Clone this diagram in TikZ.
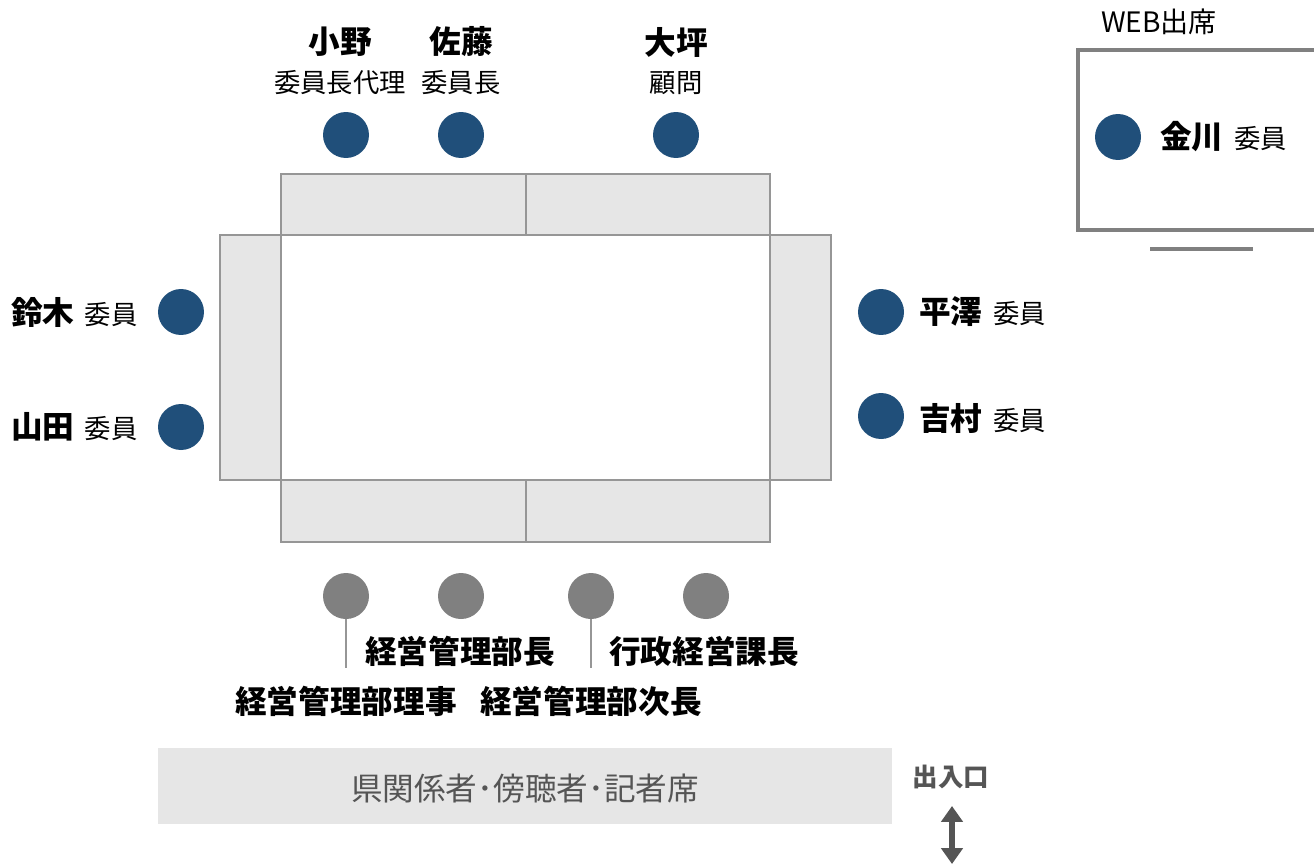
\documentclass[tikz,border=0pt]{standalone}
\usepackage{fontspec}
\newfontfamily\cjk{Noto Sans CJK JP}
\usetikzlibrary{arrows.meta}
\definecolor{kon}{RGB}{32,79,122}
\definecolor{nezumi}{RGB}{128,128,128}
\definecolor{usuzumi}{RGB}{230,230,230}
\definecolor{waku}{RGB}{150,150,150}
\definecolor{sumi}{RGB}{85,85,85}
\newcommand{\namae}{\cjk\bfseries\fontsize{18}{20}\selectfont}
\newcommand{\yaku}{\cjk\fontsize{15}{18}\selectfont}

\begin{document}
\begin{tikzpicture}[x=0.02cm, y=-0.02cm]
	\tikzset{iin/.style={circle, fill=kon, inner sep=0pt, minimum size=0.92cm},
		jimu/.style={circle, fill=nezumi, inner sep=0pt, minimum size=0.92cm},
		seki/.style={draw=waku, fill=usuzumi, line width=0.8pt},
		meifuda/.style={inner sep=0pt, font=\namae},
		katagaki/.style={inner sep=0pt, font=\yaku},
		deiri/.style={draw=sumi, line width=3.4pt, {Triangle[length=9pt, width=12pt]}-{Triangle[length=9pt, width=12pt]}}};

	\useasboundingbox (0,0) rectangle (1314,865);

	% tsukue
	\draw[seki] (281,174) rectangle (526,235);
	\draw[seki] (526,174) rectangle (770,235);
	\draw[seki] (281,480) rectangle (526,542);
	\draw[seki] (526,480) rectangle (770,542);
	\draw[seki] (220,235) rectangle (281,480);
	\draw[seki] (770,235) rectangle (831,480);
	\draw[draw=waku, fill=white, line width=0.8pt] (281,235) rectangle (770,480);

	\node[iin] (ono) at (346,135) {};
	\node[iin] (sato) at (461,135) {};
	\node[iin] (otsubo) at (676,135) {};
	\node[iin] (suzuki) at (181,312) {};
	\node[iin] (yamada) at (181,427) {};
	\node[iin] (hirasawa) at (881,312) {};
	\node[iin] (yoshimura) at (881,416) {};
	\node[iin] (kanagawa) at (1118,137) {};

	\node[meifuda] (ono-n) at (340,42) {小野};
	\node[meifuda] (sato-n) at (461,42) {佐藤};
	\node[meifuda] (otsubo-n) at (676,42) {大坪};
	\node[katagaki] (ono-y) at (340,83) {委員長代理};
	\node[katagaki] (sato-y) at (461,83) {委員長};
	\node[katagaki] (otsubo-y) at (676,83) {顧問};

	\node[inner sep=0pt, anchor=east] (suzuki-n) at (138,312) {{\namae 鈴木}\hspace{6pt}{\yaku 委員}};
	\node[inner sep=0pt, anchor=east] (yamada-n) at (138,427) {{\namae 山田}\hspace{6pt}{\yaku 委員}};
	\node[inner sep=0pt, anchor=west] (hirasawa-n) at (919,312) {{\namae 平澤}\hspace{6pt}{\yaku 委員}};
	\node[inner sep=0pt, anchor=west] (yoshimura-n) at (919,418) {{\namae 吉村}\hspace{6pt}{\yaku 委員}};
	\node[inner sep=0pt, anchor=west] (kanagawa-n) at (1160,137) {{\namae 金川}\hspace{6pt}{\yaku 委員}};

	\node[jimu] (b1) at (346,596) {};
	\node[jimu] (b2) at (461,596) {};
	\node[jimu] (b3) at (591,596) {};
	\node[jimu] (b4) at (706,596) {};

	\node[meifuda] (b2-n) at (460,651) {経営管理部長};
	\node[meifuda] (b4-n) at (704,651) {行政経営課長};
	\node[meifuda] (b1-n) at (346,701) {経営管理部理事};
	\node[meifuda] (b3-n) at (591,701) {経営管理部次長};
	\coordinate (b1-e) at (346,668);
	\coordinate (b3-e) at (591,668);
	\draw[waku, line width=1pt] (b1) -- (b1-e);
	\draw[waku, line width=1pt] (b3) -- (b3-e);

	% bochoseki
	\fill[usuzumi] (158,748) rectangle (892,824);
	\node[inner sep=0pt, text=sumi, font=\cjk\fontsize{18}{20}\selectfont] (bocho) at (525,789) {県関係者･傍聴者･記者席};
	\node[meifuda, text=sumi, font=\cjk\bfseries\fontsize{14.5}{16}\selectfont] (guchi) at (951,777) {出入口};
	\coordinate (ya-ue) at (952,806);
	\coordinate (ya-shita) at (952,864);
	\draw[deiri] (ya-ue) -- (ya-shita);

	% web
	\node[inner sep=0pt, font=\cjk\fontsize{16}{18}\selectfont] (web) at (1159,22) {WEB出席};
	\draw[draw=nezumi, line width=2pt] (1330,50) -- (1078,50) -- (1078,230) -- (1330,230);
	\draw[draw=nezumi, line width=2.4pt] (1150,249) -- (1253,249);
\end{tikzpicture}
\end{document}
